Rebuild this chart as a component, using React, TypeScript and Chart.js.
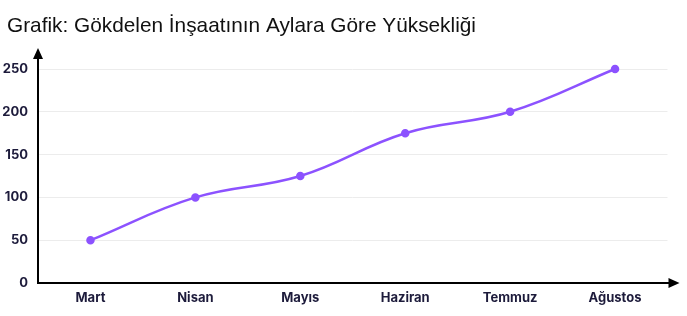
import React, { useEffect, useRef } from "react";
import { Chart, registerables } from "chart.js";

Chart.register(...registerables);

const titleText = "Grafik: Gökdelen İnşaatının Aylara Göre Yüksekliği";
const months = ["Mart", "Nisan", "Mayıs", "Haziran", "Temmuz", "Ağustos"];
const heights = [50, 100, 125, 175, 200, 250];
const yMin = 0;
const yMax = 250;
const yStep = 50;

const lineColor = "#8c52ff";
const tickColor = "#1d1b3b";
const tickFont = { family: "Inter", size: 13, weight: "bold" as const };

const decorPlugin = {
  id: "decor",
  afterDraw(chart: any) {
    const { ctx, chartArea } = chart;
    const { left, right, top, bottom } = chartArea;
    ctx.save();
    // title
    ctx.fillStyle = "#111";
    ctx.font = '20.8px "Liberation Sans"';
    ctx.textBaseline = "middle";
    ctx.textAlign = "left";
    ctx.fillText(titleText, 7, 26);
    // axes
    ctx.strokeStyle = "#000";
    ctx.fillStyle = "#000";
    ctx.lineWidth = 2;
    const x0 = Math.round(left);
    const y0 = Math.round(bottom);
    const yTop = top - 21;
    const xEnd = right + 12;
    ctx.beginPath();
    ctx.moveTo(x0, y0);
    ctx.lineTo(x0, yTop + 8);
    ctx.moveTo(x0 - 1, y0);
    ctx.lineTo(xEnd - 8, y0);
    ctx.stroke();
    ctx.beginPath();
    ctx.moveTo(x0, yTop);
    ctx.lineTo(x0 - 5, yTop + 11);
    ctx.lineTo(x0 + 5, yTop + 11);
    ctx.closePath();
    ctx.fill();
    ctx.beginPath();
    ctx.moveTo(xEnd, y0);
    ctx.lineTo(xEnd - 11, y0 - 5);
    ctx.lineTo(xEnd - 11, y0 + 5);
    ctx.closePath();
    ctx.fill();
    ctx.restore();
  },
};

export default function App() {
  const ref = useRef<HTMLCanvasElement | null>(null);
  useEffect(() => {
    if (!ref.current) return;
    const chart = new Chart(ref.current, {
      type: "line",
      data: {
        labels: months,
        datasets: [
          {
            data: heights,
            borderColor: lineColor,
            backgroundColor: lineColor,
            borderWidth: 2.5,
            pointRadius: 3,
            pointBackgroundColor: lineColor,
            pointBorderColor: lineColor,
            tension: 0.4,
            clip: false,
          },
        ],
      },
      options: {
        animation: false,
        responsive: false,
        layout: { padding: { top: 69, right: 19.5, left: 0, bottom: 0 } },
        plugins: {
          legend: { display: false },
          tooltip: { enabled: false },
          title: { display: false },
        },
        scales: {
          x: {
            offset: true,
            grid: { display: false },
            border: { display: false },
            ticks: { color: tickColor, font: tickFont, padding: -1 },
            afterFit: (s: any) => {
              s.height = 33;
            },
          },
          y: {
            min: yMin,
            max: yMax,
            ticks: { stepSize: yStep, color: tickColor, font: tickFont, padding: 10 },
            grid: { color: "#ececec", drawTicks: false, lineWidth: 1 },
            border: { display: false },
            afterFit: (s: any) => {
              s.width = 38;
            },
          },
        },
      },
      plugins: [decorPlugin],
    });
    return () => chart.destroy();
  }, []);
  return (
    <div style={{ position: "fixed", left: 0, top: 0, width: 687, height: 316, background: "#fff" }}>
      <canvas ref={ref} width={687} height={316} style={{ width: 687, height: 316, display: "block" }} />
    </div>
  );
}
